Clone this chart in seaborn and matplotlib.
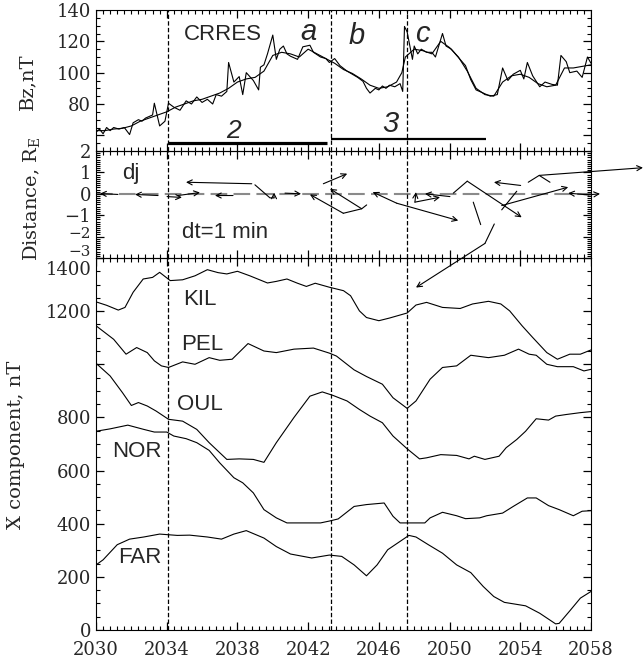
import numpy as np
import pandas as pd
import matplotlib
matplotlib.use("Agg")
import matplotlib.pyplot as plt
import matplotlib.transforms as mtransforms
import seaborn as sns
from matplotlib.ticker import MultipleLocator, FixedLocator, FixedFormatter

# ---------------- data ----------------
bz_t = [2030.0, 2030.2, 2030.4, 2030.6, 2030.8, 2031.0, 2031.3, 2031.6, 2031.9, 2032.1,
        2032.4, 2032.6, 2032.8, 2033.0, 2033.2, 2033.3, 2033.6, 2033.9, 2034.1, 2034.4,
        2034.75, 2035.1, 2035.4, 2035.7, 2036.0, 2036.3, 2036.6, 2036.8, 2037.1, 2037.4,
        2037.5, 2037.8, 2038.1, 2038.3, 2038.5, 2038.9, 2039.2, 2039.3, 2039.5, 2039.7,
        2040.0, 2040.2, 2040.4, 2040.6, 2040.8, 2041.0, 2041.4, 2041.7, 2042.1, 2042.3,
        2042.7, 2043.0, 2043.2, 2043.5, 2043.8, 2044.2, 2044.5, 2044.8, 2045.1, 2045.3,
        2045.5, 2045.8, 2046.0, 2046.2, 2046.4, 2046.6, 2046.9, 2047.2, 2047.35, 2047.45,
        2047.6, 2047.9, 2048.0, 2048.2, 2048.4, 2048.7, 2049.0, 2049.2, 2049.6, 2049.8,
        2050.1, 2050.4, 2050.9, 2051.2, 2051.5, 2051.9, 2052.3, 2052.7, 2053.0, 2053.3,
        2053.6, 2054.0, 2054.2, 2054.4, 2054.7, 2055.1, 2055.4, 2055.8, 2056.1, 2056.3,
        2056.6, 2056.8, 2057.2, 2057.5, 2057.8, 2058.0]
bz_raw = [62, 64, 61, 65, 63, 65, 64, 65, 60.5, 68,
          70, 69, 71, 72, 73, 80.5, 66, 69, 80.5, 78,
          76, 82, 80, 84.5, 81, 83, 80, 86, 85, 88,
          106.5, 94, 97.5, 86, 100, 95, 89, 103.5, 105, 112,
          124, 108.5, 115, 117, 112, 110.5, 108.5, 116.5, 117.5, 113,
          110, 109, 106.5, 109, 104.5, 101, 99, 97, 94.5, 90,
          87, 90, 89, 91.5, 90, 92, 91, 93, 88, 129.5,
          126, 108.5, 117, 112, 115, 113, 113, 110, 125, 117,
          115, 111, 104.5, 95.5, 89, 87, 85, 86, 103, 95,
          99, 101.5, 96, 106.5, 98, 91, 94, 92.5, 92, 111,
          107, 100, 101, 97, 110, 106]

bzs_t = [2030.0, 2030.5, 2031.0, 2031.5, 2032.0, 2032.5, 2033.0, 2033.5, 2034.0, 2034.5,
         2035.0, 2035.5, 2036.0, 2036.5, 2037.0, 2037.5, 2038.0, 2038.5, 2039.0, 2039.5,
         2040.0, 2040.5, 2041.0, 2041.5, 2042.0, 2042.5, 2043.0, 2043.5, 2044.0, 2044.5,
         2045.0, 2045.5, 2046.0, 2046.5, 2047.0, 2047.3, 2047.5, 2048.0, 2048.5, 2049.0,
         2049.5, 2050.0, 2050.5, 2051.0, 2051.5, 2052.0, 2052.5, 2053.0, 2053.5, 2054.0,
         2054.5, 2055.0, 2055.5, 2056.0, 2056.5, 2057.0, 2057.5, 2058.0]
bz_smooth = [63, 63, 64, 64.5, 66, 69, 71, 73, 75, 78,
             80, 82, 83, 85, 87, 90, 94, 96, 97, 101,
             111, 113, 112, 110, 115, 112, 109, 106, 102, 99.5,
             96, 92, 90, 91, 94, 100, 110, 115, 114, 112,
             120, 116, 110, 101, 90, 86, 85, 94, 98, 99,
             97, 93, 91, 92, 103, 103, 104, 105]

kil_t = [2030.0, 2030.6, 2031.26, 2031.64, 2032.1, 2032.67, 2033.2, 2033.6, 2034.2, 2034.9,
         2035.6, 2036.3, 2036.9, 2037.4, 2038.0, 2038.7, 2039.7, 2040.2, 2040.8, 2041.4,
         2041.9, 2042.4, 2043.2, 2044.0, 2044.4, 2044.9, 2045.3, 2046.0, 2046.6, 2047.6,
         2048.1, 2048.7, 2049.6, 2050.6, 2051.3, 2052.2, 2052.9, 2053.4, 2054.1, 2054.7,
         2055.5, 2056.1, 2056.8, 2057.4, 2058.0]
kil_x = [1235, 1222, 1204, 1214, 1271, 1321, 1327, 1346, 1315, 1318,
         1333, 1356, 1345, 1340, 1350, 1333, 1306, 1312, 1321, 1305,
         1293, 1305, 1290, 1277, 1258, 1201, 1176, 1164, 1174, 1193,
         1223, 1233, 1214, 1210, 1227, 1237, 1227, 1201, 1145, 1101,
         1044, 1019, 1038, 1038, 1054]

pel_t = [2030.0, 2031.0, 2031.7, 2032.3, 2032.9, 2033.3, 2033.7, 2034.1, 2034.9, 2035.6,
         2036.4, 2037.0, 2037.7, 2038.6, 2039.5, 2040.2, 2041.2, 2042.3, 2043.2, 2043.6,
         2044.6, 2045.3, 2046.2, 2046.8, 2047.6, 2048.1, 2048.9, 2049.6, 2050.4, 2051.2,
         2052.2, 2053.1, 2053.9, 2054.5, 2054.9, 2055.5, 2056.1, 2057.0, 2057.6, 2058.0]
pel_x = [1145, 1094, 1038, 1063, 1044, 1013, 994, 988, 1009, 1000,
         1025, 1015, 1019, 1078, 1050, 1044, 1057, 1061, 1042, 1031,
         979, 954, 925, 874, 834, 862, 944, 988, 994, 1034,
         1025, 1034, 1057, 1038, 1034, 1000, 991, 991, 975, 981]

oul_t = [2030.0, 2030.8, 2031.5, 2032.0, 2032.4, 2032.9, 2033.4, 2034.1, 2034.9, 2035.7,
         2036.4, 2037.4, 2038.1, 2038.9, 2039.5, 2040.2, 2041.2, 2042.1, 2042.8, 2043.4,
         2044.2, 2044.9, 2045.5, 2046.2, 2046.8, 2047.6, 2048.3, 2048.7, 2049.5, 2050.4,
         2051.1, 2051.4, 2052.0, 2052.8, 2053.2, 2053.8, 2054.3, 2054.9, 2055.6, 2056.0,
         2056.6, 2057.4, 2058.0]
oul_x = [1004, 956, 893, 845, 856, 843, 824, 793, 786, 755,
         705, 642, 644, 642, 631, 705, 800, 880, 896, 883,
         862, 830, 805, 780, 730, 682, 644, 648, 660, 657,
         644, 654, 642, 654, 686, 717, 748, 795, 790, 805,
         811, 818, 822]

nor_t = [2030.0, 2030.8, 2031.8, 2032.7, 2033.3, 2034.0, 2034.4, 2035.1, 2035.7, 2036.4,
         2037.0, 2037.8, 2038.3, 2038.9, 2039.5, 2040.2, 2040.8, 2041.5, 2042.7, 2043.2,
         2043.7, 2044.6, 2045.3, 2046.3, 2046.8, 2047.2, 2048.6, 2048.9, 2049.6, 2050.4,
         2050.9, 2051.7, 2052.1, 2053.0, 2053.6, 2054.4, 2054.9, 2055.6, 2056.2, 2057.0,
         2057.5, 2058.0]
nor_x = [748, 757, 771, 755, 745, 745, 730, 720, 705, 676,
         629, 573, 554, 516, 453, 422, 403, 403, 403, 410,
         418, 465, 472, 478, 428, 403, 403, 422, 443, 430,
         419, 422, 430, 440, 465, 497, 497, 468, 453, 430,
         447, 449]

far_t = [2030.0, 2030.4, 2031.2, 2031.9, 2032.7, 2033.6, 2034.6, 2035.3, 2036.3, 2037.1,
         2037.8, 2038.5, 2039.5, 2040.2, 2041.0, 2042.2, 2043.2, 2043.9, 2044.6, 2045.3,
         2045.9, 2046.5, 2047.1, 2047.7, 2048.1, 2048.8, 2049.6, 2050.4, 2051.2, 2051.9,
         2052.5, 2053.1, 2054.3, 2055.1, 2056.0, 2056.2, 2056.8, 2057.4, 2058.0]
far_x = [245, 264, 321, 342, 350, 361, 356, 357, 350, 342,
         361, 374, 346, 314, 286, 271, 282, 277, 245, 204,
         245, 302, 329, 356, 350, 321, 289, 245, 216, 164,
         126, 104, 91, 63, 23, 25, 72, 120, 145]

stations = ["KIL", "PEL", "OUL", "NOR", "FAR"]

# displacement vectors (start -> end, arrowhead at end)
arrow_t0 = [2031.24, 2033.51, 2034.02, 2034.64, 2037.75, 2038.81, 2040.07, 2040.69, 2043.99, 2045.03,
            2042.86, 2047.01, 2047.01, 2048.04, 2050.02, 2048.04, 2051.00, 2052.00, 2054.02, 2052.95,
            2055.07, 2057.85, 2057.85]
arrow_y0 = [-0.03, -0.08, -0.13, -0.08, -0.08, 0.47, -0.19, 0.03, -0.91, -0.70,
            0.47, -0.44, -0.44, -0.39, -0.13, -0.39, 0.59, -2.32, 0.39, -0.55,
            0.86, -0.05, -0.05]
arrow_t1 = [2030.23, 2032.21, 2034.86, 2035.88, 2036.73, 2035.09, 2040.07, 2041.60, 2042.10, 2043.24,
            2044.21, 2045.65, 2050.49, 2048.10, 2048.61, 2049.46, 2054.08, 2048.10, 2052.51, 2056.71,
            2060.94, 2056.71, 2058.51]
arrow_y1 = [0.01, -0.03, -0.17, 0.06, -0.08, 0.54, 0.06, 0.00, -0.03, 0.23,
            0.94, 0.08, -1.25, 0.08, 0.00, -0.16, -1.10, -4.38, 0.54, 0.31,
            1.22, 0.03, 0.00]
seg_t = [[2038.99, 2039.84, 2040.07], [2043.99, 2045.03, 2045.31], [2050.21, 2051.00],
         [2051.34, 2051.76], [2052.53, 2052.00], [2053.80, 2052.95], [2054.45, 2055.07, 2055.68]]
seg_y = [[0.42, -0.19, -0.19], [-0.91, -0.70, -0.52], [0.03, 0.59],
         [-0.39, -1.44], [-1.41, -2.32], [0.12, -0.75], [0.54, 0.86, 0.54]]

event_times = [2034.1, 2043.27, 2047.6]
interval2 = [2034.1, 2043.07]
interval3 = [2043.27, 2052.06]

x_ticks = [2030, 2034, 2038, 2042, 2046, 2050, 2054, 2058]
bz_ticks = [60, 80, 100, 120, 140]
bz_labels = ["", "80", "100", "120", "140"]
d_ticks = [-3, -2, -1, 0, 1, 2]
d_labels = ["", "", "\u22121", "0", "1", "2"]
x3_ticks = [0, 200, 400, 600, 800, 1000, 1200, 1400]
x3_labels = ["0", "200", "400", "600", "800", "", "1200", ""]

# ---------------- style ----------------
sns.set_style("ticks")
plt.rcParams["font.family"] = ["DejaVu Serif"]
plt.rcParams["mathtext.fontset"] = "dejavuserif"
SANS = ["Liberation Sans", "DejaVu Sans"]
FIG_W, FIG_H = 643, 663

fig = plt.figure(figsize=(FIG_W / 100, FIG_H / 100), dpi=100)
L, W = 96 / FIG_W, 495 / FIG_W


def pos(top, bot):
    return [L, 1 - bot / FIG_H, W, (bot - top) / FIG_H]


ax1 = fig.add_axes(pos(10, 151))
ax2 = fig.add_axes(pos(151, 258))
ax3 = fig.add_axes(pos(258, 630))


def style_axis(ax):
    ax.set_xlim(2030, 2058)
    ax.xaxis.set_major_locator(FixedLocator(x_ticks))
    ax.xaxis.set_minor_locator(MultipleLocator(0.4))
    for sp in ax.spines.values():
        sp.set_visible(True)
        sp.set_color("black")
    ax.tick_params(which="both", direction="in", top=True, right=True,
                   color="black", labelsize=13)
    ax.tick_params(which="both", length=0)
    ax.patch.set_alpha(0)


def tick_line(ax, locs, lo, hi, ln_px, along_x, lw):
    """Inward tick marks drawn as one broken Line2D, at locator positions."""
    bb = ax.get_position()
    if along_x:
        f = ln_px / (bb.height * FIG_H)
        tr = mtransforms.blended_transform_factory(ax.transData, ax.transAxes)
    else:
        f = ln_px / (bb.width * FIG_W)
        tr = mtransforms.blended_transform_factory(ax.transAxes, ax.transData)
    a, b = [], []
    for v in locs:
        if lo - 1e-9 <= v <= hi + 1e-9:
            a += [v, v, np.nan, v, v, np.nan]
            b += [0.0, f, np.nan, 1.0, 1.0 - f, np.nan]
    if along_x:
        ax.plot(a, b, transform=tr, color="black", lw=lw, solid_capstyle="butt")
    else:
        ax.plot(b, a, transform=tr, color="black", lw=lw, solid_capstyle="butt")


def add_inward_ticks(ax):
    x0, x1 = sorted(ax.get_xlim())
    y0, y1 = sorted(ax.get_ylim())
    tick_line(ax, ax.xaxis.get_majorticklocs(), x0, x1, 8.0, True, 0.9)
    tick_line(ax, ax.xaxis.get_minorticklocs(), x0, x1, 4.0, True, 0.8)
    tick_line(ax, ax.yaxis.get_majorticklocs(), y0, y1, 8.0, False, 0.9)
    tick_line(ax, ax.yaxis.get_minorticklocs(), y0, y1, 4.0, False, 0.8)
    ax.set_xlim(x0, x1)
    ax.set_ylim(y0, y1)


for ax in (ax1, ax2, ax3):
    style_axis(ax)

LW = 0.8
# ---- panel 1 : Bz
df_bz = pd.DataFrame({"t": bz_t, "bz": bz_raw})
df_bzs = pd.DataFrame({"t": bzs_t, "bz": bz_smooth})
sns.lineplot(data=df_bz, x="t", y="bz", ax=ax1, color="black", lw=LW, estimator=None)
sns.lineplot(data=df_bzs, x="t", y="bz", ax=ax1, color="black", lw=LW, estimator=None)
ax1.set_ylim(50, 140)
ax1.plot(interval2, [55.2, 55.2], color="black", lw=2.3, solid_capstyle="butt")
ax1.plot(interval3, [57.7, 57.7], color="black", lw=1.6, solid_capstyle="butt")
ax1.text(2037.18, 124.3, "CRRES", family=SANS, fontsize=16, ha="center", va="center")
ax1.text(2042.0, 120.6, "a", family=SANS, style="italic", fontsize=21, ha="center", va="baseline")
ax1.text(2044.76, 118.4, "b", family=SANS, style="italic", fontsize=21, ha="center", va="baseline")
ax1.text(2048.44, 119.7, "c", family=SANS, style="italic", fontsize=21, ha="center", va="baseline")
ax1.text(2037.75, 58.5, "2", family=SANS, style="italic", fontsize=19, ha="center", va="baseline")
ax1.text(2046.63, 62.0, "3", family=SANS, style="italic", fontsize=21, ha="center", va="baseline")
ax1.yaxis.set_major_locator(FixedLocator(bz_ticks))
ax1.yaxis.set_major_formatter(FixedFormatter(bz_labels))
ax1.yaxis.set_minor_locator(MultipleLocator(5))

# ---- panel 2 : displacement vectors
ax2.axhline(0, color="#8a8a8a", lw=1.5, dashes=(8, 3))
for t0, y0, t1, y1 in zip(arrow_t0, arrow_y0, arrow_t1, arrow_y1):
    ax2.annotate("", xy=(t1, y1), xytext=(t0, y0), annotation_clip=False,
                 arrowprops=dict(arrowstyle="->", lw=0.8, color="black",
                                 shrinkA=0, shrinkB=0, mutation_scale=9))
for ts, ys in zip(seg_t, seg_y):
    ax2.plot(ts, ys, color="black", lw=0.8, clip_on=False)
ax2.set_ylim(-3, 2)
ax2.text(2031.98, 0.95, "dj", family=SANS, fontsize=16, ha="center", va="center")
ax2.text(2037.3, -1.79, "dt=1 min", family=SANS, fontsize=16, ha="center", va="center")
ax2.yaxis.set_major_locator(FixedLocator(d_ticks))
ax2.yaxis.set_major_formatter(FixedFormatter(d_labels))
ax2.yaxis.set_minor_locator(MultipleLocator(0.1))
ax2.tick_params(axis="y", which="major", labelsize=11)
ax2.annotate("\u22122", xy=(0, -2), xycoords=("axes fraction", "data"),
             xytext=(-3.5, 1.8), textcoords="offset points", ha="right", va="center",
             fontsize=11)
ax2.annotate("\u22123", xy=(0, -3), xycoords=("axes fraction", "data"),
             xytext=(-3.5, 4.3), textcoords="offset points", ha="right", va="center",
             fontsize=11)

# ---- panel 3 : X component
df3 = pd.concat([
    pd.DataFrame({"t": kil_t, "X": kil_x, "station": "KIL"}),
    pd.DataFrame({"t": pel_t, "X": pel_x, "station": "PEL"}),
    pd.DataFrame({"t": oul_t, "X": oul_x, "station": "OUL"}),
    pd.DataFrame({"t": nor_t, "X": nor_x, "station": "NOR"}),
    pd.DataFrame({"t": far_t, "X": far_x, "station": "FAR"}),
], ignore_index=True)
sns.lineplot(data=df3, x="t", y="X", units="station", estimator=None,
             color="black", lw=LW, ax=ax3)
ax3.set_ylim(0, 1400)
label_pos = {"KIL": (2035.88, 1245), "PEL": (2036.0, 1076), "OUL": (2035.88, 849),
             "NOR": (2032.32, 672), "FAR": (2032.49, 272)}
for s in stations:
    ax3.text(*label_pos[s], s, family=SANS, fontsize=16, ha="center", va="center")
ax3.yaxis.set_major_locator(FixedLocator(x3_ticks))
ax3.yaxis.set_major_formatter(FixedFormatter(x3_labels))
ax3.yaxis.set_minor_locator(MultipleLocator(50))
ax3.xaxis.set_major_formatter(FixedFormatter([str(v) for v in x_ticks]))
ax3.annotate("1400", xy=(0, 1400), xycoords=("axes fraction", "data"),
             xytext=(-3.5, -9), textcoords="offset points", ha="right", va="center",
             fontsize=13)

for ax in (ax1, ax2, ax3):
    for tv in event_times:
        ax.axvline(tv, color="black", lw=0.9, dashes=(3.5, 1.8))
    ax.set_xlabel("")
    ax.set_ylabel("")
    style_axis(ax)

ax1.set_ylim(50, 140)
ax2.set_ylim(-3, 2)
ax3.set_ylim(0, 1400)
for ax in (ax1, ax2, ax3):
    add_inward_ticks(ax)

ax3.tick_params(axis="x", pad=8)
ax1.tick_params(labelbottom=False)
ax2.tick_params(labelbottom=False)

fig.text(27 / FIG_W, 1 - 82 / FIG_H, "Bz,nT", rotation=90, fontsize=14, ha="center", va="center")
fig.text(32 / FIG_W, 1 - 199 / FIG_H, r"Distance, R$_{\rm E}$", rotation=90, fontsize=14,
         ha="center", va="center")
fig.text(16 / FIG_W, 1 - 445 / FIG_H, "X component, nT", rotation=90, fontsize=14,
         ha="center", va="center")

fig.savefig("out.png", dpi=100, facecolor="white")
